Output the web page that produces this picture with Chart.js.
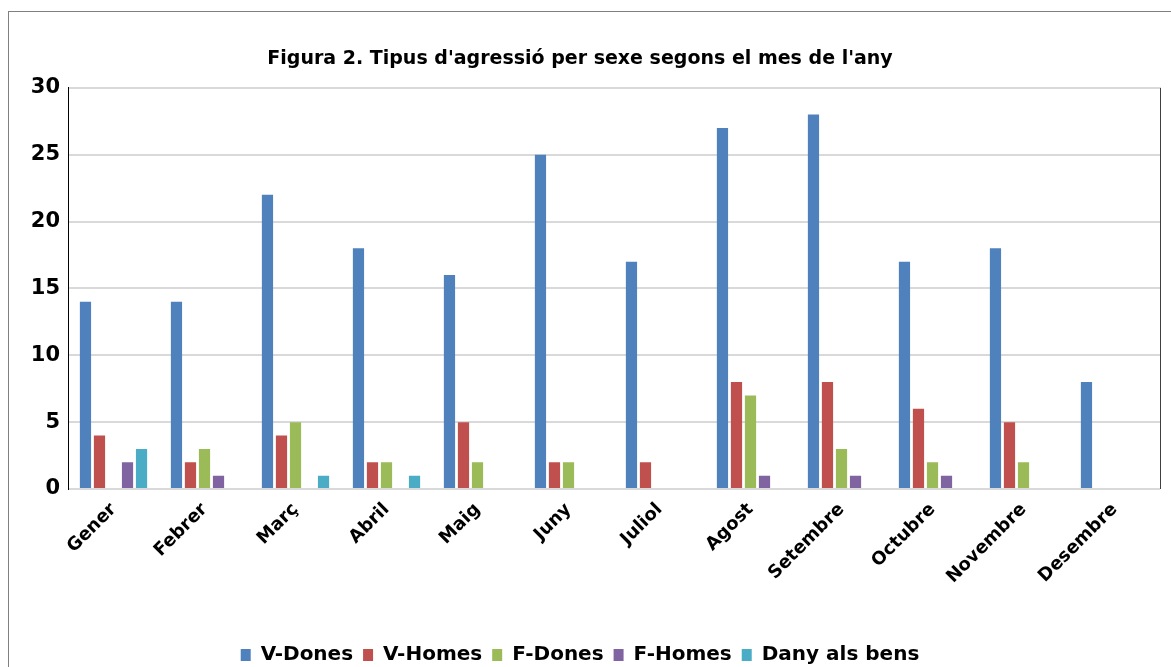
<!DOCTYPE html>
<html>
<head>
<meta charset="utf-8">
<script src="https://cdn.jsdelivr.net/npm/chart.js@4.4.1/dist/chart.umd.min.js"></script>
<style>
  html, body { margin: 0; padding: 0; background: #fff; overflow: hidden; }
  #wrap { position: relative; width: 1171px; height: 667px; overflow: hidden; }
  #frame { position: absolute; left: 8px; top: 11px; width: 1200px; height: 700px; border: 1px solid #808080; }
  canvas { position: absolute; left: 0; top: 0; }
</style>
</head>
<body>
<div id="wrap">
  <div id="frame"></div>
  <canvas id="chart" width="1171" height="675"></canvas>
</div>
<script>
// --- Data ---
const months = ['Gener', 'Febrer', 'Març', 'Abril', 'Maig', 'Juny', 'Juliol', 'Agost', 'Setembre', 'Octubre', 'Novembre', 'Desembre'];
const vDones = [14, 14, 22, 18, 16, 25, 17, 27, 28, 17, 18, 8];
const vHomes = [4, 2, 4, 2, 5, 2, 2, 8, 8, 6, 5, 0];
const fDones = [0, 3, 5, 2, 2, 2, 0, 7, 3, 2, 2, 0];
const fHomes = [2, 1, 0, 0, 0, 0, 0, 1, 1, 1, 0, 0];
const danyBens = [3, 0, 1, 1, 0, 0, 0, 0, 0, 0, 0, 0];
const yTicks = [0, 5, 10, 15, 20, 25, 30];

const FONT = "'DejaVu Sans', Verdana, sans-serif";

// right border of the plot area
const rightBorder = {
    id: 'rightBorder',
    afterDraw(chart) {
        const { ctx, chartArea } = chart;
        ctx.save();
        ctx.strokeStyle = '#404040';
        ctx.lineWidth = 1;
        ctx.beginPath();
        ctx.moveTo(chartArea.right + 0.5, chartArea.top);
        ctx.lineTo(chartArea.right + 0.5, chartArea.bottom);
        ctx.stroke();
        ctx.restore();
    }
};

function ds(label, data, color) {
    return { label: label, data: data, backgroundColor: color, borderWidth: 0, barPercentage: 0.8, categoryPercentage: 0.77 };
}

new Chart(document.getElementById('chart'), {
    type: 'bar',
    data: {
        labels: months,
        datasets: [
            ds('V-Dones', vDones, '#4F81BD'),
            ds('V-Homes', vHomes, '#C0504D'),
            ds('F-Dones', fDones, '#9BBB59'),
            ds('F-Homes', fHomes, '#8064A2'),
            ds('Dany als bens', danyBens, '#4BACC6')
        ]
    },
    options: {
        responsive: false,
        animation: false,
        layout: { padding: { left: 0, right: 11, top: 48, bottom: 0 } },
        plugins: {
            title: {
                display: true,
                text: "Figura 2. Tipus d'agressió per sexe segons el mes de l'any",
                color: '#000',
                font: { family: FONT, size: 19, weight: 'bold' },
                padding: { top: 0, bottom: 17 }
            },
            legend: {
                position: 'bottom',
                labels: {
                    color: '#000',
                    font: { family: FONT, size: 20, weight: 'bold' },
                    boxWidth: 10, boxHeight: 12, padding: 10
                }
            },
            tooltip: { enabled: false }
        },
        scales: {
            x: {
                grid: { display: false },
                border: { display: false },
                ticks: {
                    color: '#000',
                    font: { family: FONT, size: 18, weight: 'bold' },
                    minRotation: 45, maxRotation: 45,
                    padding: 2
                },
                afterFit(scale) { scale.height = 146; }
            },
            y: {
                min: 0, max: 30,
                afterBuildTicks(scale) { scale.ticks = yTicks.map(v => ({ value: v })); },
                ticks: {
                    color: '#000',
                    font: { family: FONT, size: 21, weight: 'bold' },
                    padding: 8
                },
                grid: { color: '#d9d9d9', lineWidth: 2, drawTicks: false },
                border: { display: true, color: '#000', width: 1 },
                afterFit(scale) { scale.width = 68; }
            }
        }
    },
    plugins: [rightBorder]
});
</script>
</body>
</html>
